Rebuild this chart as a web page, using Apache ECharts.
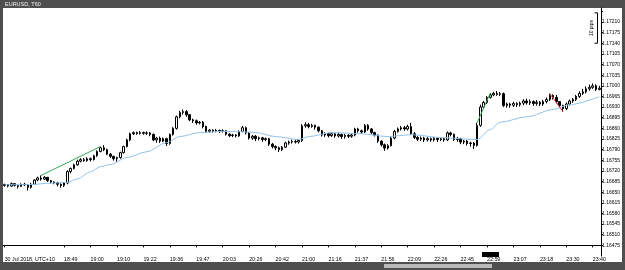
<!DOCTYPE html>
<html>
<head>
<meta charset="utf-8">
<script src="https://cdn.jsdelivr.net/npm/echarts@6/dist/echarts.min.js"></script>
<style>
  html, body { margin: 0; padding: 0; background: #4f4f4f; overflow: hidden; }
  #frame { position: absolute; left: 3px; top: 8px; width: 619px; height: 254px; background: #fff; }
  #scroll { position: absolute; left: 384px; top: 264px; width: 108px; height: 4px; background: #b9b9b9; }
  #chart { position: absolute; left: 0; top: 0; width: 625px; height: 270px; }
</style>
</head>
<body>
<div id="frame"></div>
<div id="scroll"></div>
<div id="chart"></div>
<script>
/* EURUSD T60 tick chart, MT4 look. Price axis is drawn in points above BASE so ticks land on the labels. */
const BASE = 1.16475;
const PT = 0.00001;
const STEP = 35;
const FONT = '"Liberation Sans", Arial, sans-serif';

const timeLabels = ['30 Jul 2018, UTC+10', '18:49', '19:00', '19:10', '19:22', '19:36', '19:47', '20:03',
  '20:26', '20:42', '21:00', '21:16', '21:37', '21:56', '22:09', '22:26', '22:45', '22:59', '23:07',
  '23:18', '23:30', '23:40'];
const timeLabelBars = [0, 18, 26, 34, 42, 50, 58, 66, 74, 82, 90, 98, 106, 114, 122, 130, 138, 146,
  154, 162, 170, 178];

const open = [
  1.16672, 1.16675, 1.16670, 1.16678, 1.16672, 1.16669, 1.16676, 1.16674, 1.16666, 1.16676,
  1.16690, 1.16697, 1.16693, 1.16699, 1.16688, 1.16683, 1.16680, 1.16676, 1.16672, 1.16680,
  1.16718, 1.16728, 1.16740, 1.16752, 1.16757, 1.16754, 1.16760, 1.16757, 1.16770, 1.16784,
  1.16796, 1.16790, 1.16775, 1.16768, 1.16760, 1.16764, 1.16780, 1.16800, 1.16822, 1.16842,
  1.16846, 1.16843, 1.16846, 1.16844, 1.16845, 1.16840, 1.16822, 1.16828, 1.16818, 1.16826,
  1.16810, 1.16840, 1.16860, 1.16898, 1.16912, 1.16915, 1.16905, 1.16888, 1.16885, 1.16878,
  1.16880, 1.16866, 1.16850, 1.16854, 1.16851, 1.16853, 1.16850, 1.16852, 1.16841, 1.16836,
  1.16838, 1.16835, 1.16850, 1.16862, 1.16845, 1.16828, 1.16834, 1.16826, 1.16829, 1.16823,
  1.16826, 1.16808, 1.16800, 1.16796, 1.16790, 1.16798, 1.16812, 1.16815, 1.16817, 1.16815,
  1.16820, 1.16868, 1.16872, 1.16866, 1.16870, 1.16864, 1.16852, 1.16838, 1.16843, 1.16836,
  1.16842, 1.16835, 1.16840, 1.16833, 1.16837, 1.16834, 1.16838, 1.16858, 1.16852, 1.16848,
  1.16870, 1.16858, 1.16846, 1.16838, 1.16818, 1.16806, 1.16795, 1.16803, 1.16828, 1.16850,
  1.16858, 1.16862, 1.16858, 1.16866, 1.16842, 1.16830, 1.16824, 1.16828, 1.16822, 1.16826,
  1.16822, 1.16827, 1.16823, 1.16826, 1.16822, 1.16845, 1.16840, 1.16823, 1.16826, 1.16815,
  1.16818, 1.16810, 1.16812, 1.16804, 1.16870, 1.16930, 1.16945, 1.16962, 1.16970, 1.16975,
  1.16972, 1.16974, 1.16935, 1.16940, 1.16936, 1.16942, 1.16938, 1.16943, 1.16950, 1.16944,
  1.16948, 1.16942, 1.16946, 1.16940, 1.16948, 1.16955, 1.16968, 1.16962, 1.16948, 1.16935,
  1.16925, 1.16940, 1.16950, 1.16955, 1.16965, 1.16975, 1.16980, 1.16990, 1.16995, 1.17000,
  1.16988
];
const close = [
  1.16675, 1.16670, 1.16678, 1.16672, 1.16669, 1.16676, 1.16674, 1.16666, 1.16676, 1.16690,
  1.16697, 1.16693, 1.16699, 1.16688, 1.16683, 1.16680, 1.16676, 1.16672, 1.16680, 1.16718,
  1.16728, 1.16740, 1.16752, 1.16757, 1.16754, 1.16760, 1.16757, 1.16770, 1.16784, 1.16796,
  1.16790, 1.16775, 1.16768, 1.16760, 1.16764, 1.16780, 1.16800, 1.16822, 1.16842, 1.16846,
  1.16843, 1.16846, 1.16844, 1.16845, 1.16840, 1.16822, 1.16828, 1.16818, 1.16826, 1.16810,
  1.16840, 1.16860, 1.16898, 1.16912, 1.16915, 1.16905, 1.16888, 1.16885, 1.16878, 1.16880,
  1.16866, 1.16850, 1.16854, 1.16851, 1.16853, 1.16850, 1.16852, 1.16841, 1.16836, 1.16838,
  1.16835, 1.16850, 1.16862, 1.16845, 1.16828, 1.16834, 1.16826, 1.16829, 1.16823, 1.16826,
  1.16808, 1.16800, 1.16796, 1.16790, 1.16798, 1.16812, 1.16815, 1.16817, 1.16815, 1.16820,
  1.16868, 1.16872, 1.16866, 1.16870, 1.16864, 1.16852, 1.16838, 1.16843, 1.16836, 1.16842,
  1.16835, 1.16840, 1.16833, 1.16837, 1.16834, 1.16838, 1.16858, 1.16852, 1.16848, 1.16870,
  1.16858, 1.16846, 1.16838, 1.16818, 1.16806, 1.16795, 1.16803, 1.16828, 1.16850, 1.16858,
  1.16862, 1.16858, 1.16866, 1.16842, 1.16830, 1.16824, 1.16828, 1.16822, 1.16826, 1.16822,
  1.16827, 1.16823, 1.16826, 1.16822, 1.16845, 1.16840, 1.16823, 1.16826, 1.16815, 1.16818,
  1.16810, 1.16812, 1.16804, 1.16870, 1.16930, 1.16945, 1.16962, 1.16970, 1.16975, 1.16972,
  1.16974, 1.16935, 1.16940, 1.16936, 1.16942, 1.16938, 1.16943, 1.16950, 1.16944, 1.16948,
  1.16942, 1.16946, 1.16940, 1.16948, 1.16955, 1.16968, 1.16962, 1.16948, 1.16935, 1.16925,
  1.16940, 1.16950, 1.16955, 1.16965, 1.16975, 1.16980, 1.16990, 1.16995, 1.17000, 1.16988,
  1.16992
];
const low = [
  1.16668, 1.16666, 1.16668, 1.16669, 1.16662, 1.16667, 1.16670, 1.16655, 1.16662, 1.16674,
  1.16686, 1.16688, 1.16690, 1.16684, 1.16678, 1.16676, 1.16669, 1.16665, 1.16667, 1.16676,
  1.16712, 1.16725, 1.16737, 1.16748, 1.16750, 1.16750, 1.16751, 1.16754, 1.16766, 1.16781,
  1.16785, 1.16772, 1.16763, 1.16754, 1.16750, 1.16760, 1.16777, 1.16797, 1.16818, 1.16838,
  1.16839, 1.16840, 1.16839, 1.16838, 1.16834, 1.16818, 1.16813, 1.16812, 1.16815, 1.16802,
  1.16806, 1.16836, 1.16856, 1.16893, 1.16905, 1.16898, 1.16884, 1.16878, 1.16872, 1.16873,
  1.16860, 1.16846, 1.16846, 1.16846, 1.16847, 1.16845, 1.16846, 1.16836, 1.16831, 1.16831,
  1.16830, 1.16832, 1.16847, 1.16840, 1.16823, 1.16822, 1.16818, 1.16820, 1.16816, 1.16818,
  1.16802, 1.16794, 1.16788, 1.16782, 1.16785, 1.16795, 1.16806, 1.16810, 1.16810, 1.16810,
  1.16815, 1.16862, 1.16860, 1.16862, 1.16856, 1.16847, 1.16833, 1.16832, 1.16830, 1.16832,
  1.16829, 1.16830, 1.16825, 1.16826, 1.16828, 1.16829, 1.16834, 1.16846, 1.16842, 1.16845,
  1.16852, 1.16840, 1.16833, 1.16812, 1.16800, 1.16786, 1.16790, 1.16800, 1.16824, 1.16846,
  1.16853, 1.16852, 1.16853, 1.16838, 1.16825, 1.16818, 1.16818, 1.16815, 1.16817, 1.16816,
  1.16817, 1.16815, 1.16818, 1.16816, 1.16818, 1.16834, 1.16818, 1.16816, 1.16808, 1.16808,
  1.16803, 1.16800, 1.16792, 1.16800, 1.16865, 1.16925, 1.16940, 1.16958, 1.16966, 1.16967,
  1.16966, 1.16930, 1.16928, 1.16928, 1.16930, 1.16930, 1.16932, 1.16936, 1.16938, 1.16937,
  1.16934, 1.16935, 1.16933, 1.16934, 1.16942, 1.16950, 1.16955, 1.16942, 1.16928, 1.16915,
  1.16920, 1.16935, 1.16944, 1.16950, 1.16960, 1.16970, 1.16975, 1.16984, 1.16990, 1.16983,
  1.16985
];
const high = [
  1.16678, 1.16677, 1.16682, 1.16680, 1.16674, 1.16679, 1.16681, 1.16676, 1.16680, 1.16693,
  1.16701, 1.16705, 1.16703, 1.16700, 1.16690, 1.16686, 1.16684, 1.16679, 1.16683, 1.16722,
  1.16731, 1.16744, 1.16757, 1.16762, 1.16763, 1.16765, 1.16764, 1.16773, 1.16788, 1.16800,
  1.16805, 1.16793, 1.16779, 1.16770, 1.16767, 1.16783, 1.16803, 1.16826, 1.16846, 1.16850,
  1.16849, 1.16851, 1.16849, 1.16850, 1.16848, 1.16843, 1.16832, 1.16833, 1.16830, 1.16829,
  1.16843, 1.16864, 1.16902, 1.16918, 1.16922, 1.16920, 1.16907, 1.16892, 1.16889, 1.16884,
  1.16884, 1.16869, 1.16858, 1.16857, 1.16858, 1.16856, 1.16857, 1.16854, 1.16844, 1.16842,
  1.16841, 1.16853, 1.16868, 1.16866, 1.16848, 1.16838, 1.16838, 1.16833, 1.16832, 1.16830,
  1.16828, 1.16812, 1.16804, 1.16800, 1.16802, 1.16816, 1.16820, 1.16823, 1.16822, 1.16824,
  1.16874, 1.16880, 1.16878, 1.16875, 1.16872, 1.16866, 1.16855, 1.16847, 1.16846, 1.16847,
  1.16845, 1.16846, 1.16843, 1.16842, 1.16841, 1.16843, 1.16862, 1.16862, 1.16856, 1.16874,
  1.16874, 1.16861, 1.16849, 1.16840, 1.16821, 1.16810, 1.16808, 1.16832, 1.16855, 1.16863,
  1.16868, 1.16868, 1.16872, 1.16878, 1.16848, 1.16834, 1.16833, 1.16832, 1.16831, 1.16830,
  1.16832, 1.16831, 1.16830, 1.16830, 1.16850, 1.16849, 1.16843, 1.16832, 1.16829, 1.16822,
  1.16822, 1.16816, 1.16815, 1.16878, 1.16938, 1.16950, 1.16966, 1.16976, 1.16980, 1.16983,
  1.16980, 1.16978, 1.16945, 1.16944, 1.16948, 1.16946, 1.16948, 1.16956, 1.16958, 1.16955,
  1.16952, 1.16953, 1.16950, 1.16954, 1.16962, 1.16974, 1.16972, 1.16970, 1.16950, 1.16938,
  1.16945, 1.16955, 1.16960, 1.16970, 1.16982, 1.16990, 1.16998, 1.17004, 1.17008, 1.17005,
  1.17000
];

// moving average at these bars
const maBars = [0, 8, 14, 19, 22, 26, 29, 32, 37, 43, 49, 53, 59, 66, 72, 76, 82, 89, 92, 99,
  108, 116, 123, 133, 143, 147, 150, 158, 166, 171, 180];
const maPrices = [1.16674, 1.16675, 1.16680, 1.16682, 1.16694, 1.16717, 1.16734, 1.16741, 1.16764,
  1.16783, 1.16813, 1.16833, 1.16846, 1.16850, 1.16849, 1.16846, 1.16833, 1.16823, 1.16833,
  1.16846, 1.16842, 1.16833, 1.16839, 1.16829, 1.16823, 1.16856, 1.16880, 1.16898, 1.16922,
  1.16938, 1.16964];

// swing lines
const greenUp1 = [[11, 1.16705], [29, 1.16800]];
const greenUp2 = [[143, 1.16878], [147, 1.16976]];
const redDown = [[165, 1.16974], [169, 1.16915]];

// "10 pips" scale bracket, top right
const pipBar = { bar: 179, top: 1.17240, bottom: 1.17140, text: '10 pips' };

const toPt = (p) => Math.round((p - BASE) / PT);
const labelAt = {};
timeLabelBars.forEach((b, k) => { labelAt[b] = timeLabels[k]; });
const cats = open.map((_, i) => String(i));
const showAt = (i) => labelAt[i] != null;

const chart = echarts.init(document.getElementById('chart'), null, { renderer: 'canvas' });

const swing = (pts, col) => ({
  type: 'line', data: pts.map((p) => [p[0], toPt(p[1])]),
  symbol: 'rect', symbolSize: [3, 3], showSymbol: true,
  lineStyle: { color: col, width: 1 }, itemStyle: { color: col }, z: 4, silent: true
});

chart.setOption({
  animation: false,
  title: {
    text: 'EURUSD, T60', left: 5, top: 1, padding: 0,
    textStyle: { color: '#f2f2f2', fontSize: 5.5, fontWeight: 'normal', fontFamily: FONT }
  },
  grid: { left: 3, right: 24, top: 8, bottom: 14, containLabel: false, outerBoundsMode: 'none' },
  xAxis: {
    type: 'category', data: cats, boundaryGap: true,
    axisLine: { lineStyle: { color: '#000', width: 1 } },
    axisTick: { show: true, length: 2, interval: showAt, alignWithLabel: true, lineStyle: { color: '#000' } },
    axisLabel: {
      interval: showAt, formatter: (v, i) => labelAt[i] || '', align: 'left', margin: 1,
      fontSize: 5.3, color: '#000', fontFamily: FONT
    },
    splitLine: { show: false }
  },
  yAxis: {
    type: 'value', position: 'right', min: -STEP, max: 781, interval: STEP,
    axisLine: { show: true, lineStyle: { color: '#000', width: 1 } },
    axisTick: { show: true, length: 2, lineStyle: { color: '#000' } },
    splitLine: { show: false },
    axisLabel: {
      margin: 1, fontSize: 5, color: '#000', fontFamily: FONT, showMinLabel: false, showMaxLabel: false,
      formatter: (v) => (v < 0 || v > 740 ? '' : (BASE + v * PT).toFixed(5))
    }
  },
  graphic: [
    { type: 'rect', shape: { x: 482, y: 252, width: 17, height: 5 }, style: { fill: '#000' }, z: 100 }
  ],
  series: [
    {
      type: 'candlestick', barWidth: 2,
      data: open.map((o, i) => [toPt(o), toPt(close[i]), toPt(low[i]), toPt(high[i])]),
      itemStyle: {
        color: '#fff', color0: '#000', borderColor: '#000', borderColor0: '#000',
        borderColorDoji: '#000', borderWidth: 1
      },
      silent: true, z: 2
    },
    {
      type: 'line', data: maBars.map((b, k) => [b, toPt(maPrices[k])]),
      showSymbol: false, smooth: 0.3, smoothMonotone: 'x',
      lineStyle: { color: '#8fc1ea', width: 1 }, z: 3, silent: true
    },
    swing(greenUp1, '#34a853'),
    swing(greenUp2, '#34a853'),
    swing(redDown, '#e8262c'),
    {
      type: 'custom', clip: false, silent: true, z: 5,
      data: [[pipBar.bar, toPt(pipBar.top), toPt(pipBar.bottom)]],
      encode: { x: 0, y: [1, 2] },
      renderItem: (params, api) => {
        const a = api.coord([api.value(0), api.value(1)]);
        const b = api.coord([api.value(0), api.value(2)]);
        const x = Math.round(a[0]) + 1.5;
        return {
          type: 'group', children: [
            { type: 'polyline', shape: { points: [[x - 3, a[1]], [x, a[1]], [x, b[1]], [x - 3, b[1]]] },
              style: { stroke: '#000', lineWidth: 1, fill: null } },
            { type: 'text', x: x - 6, y: (a[1] + b[1]) / 2, rotation: Math.PI / 2,
              style: { text: pipBar.text, fill: '#000', fontSize: 5, fontFamily: FONT, align: 'center', verticalAlign: 'middle' } }
          ]
        };
      }
    }
  ]
});
</script>
</body>
</html>
